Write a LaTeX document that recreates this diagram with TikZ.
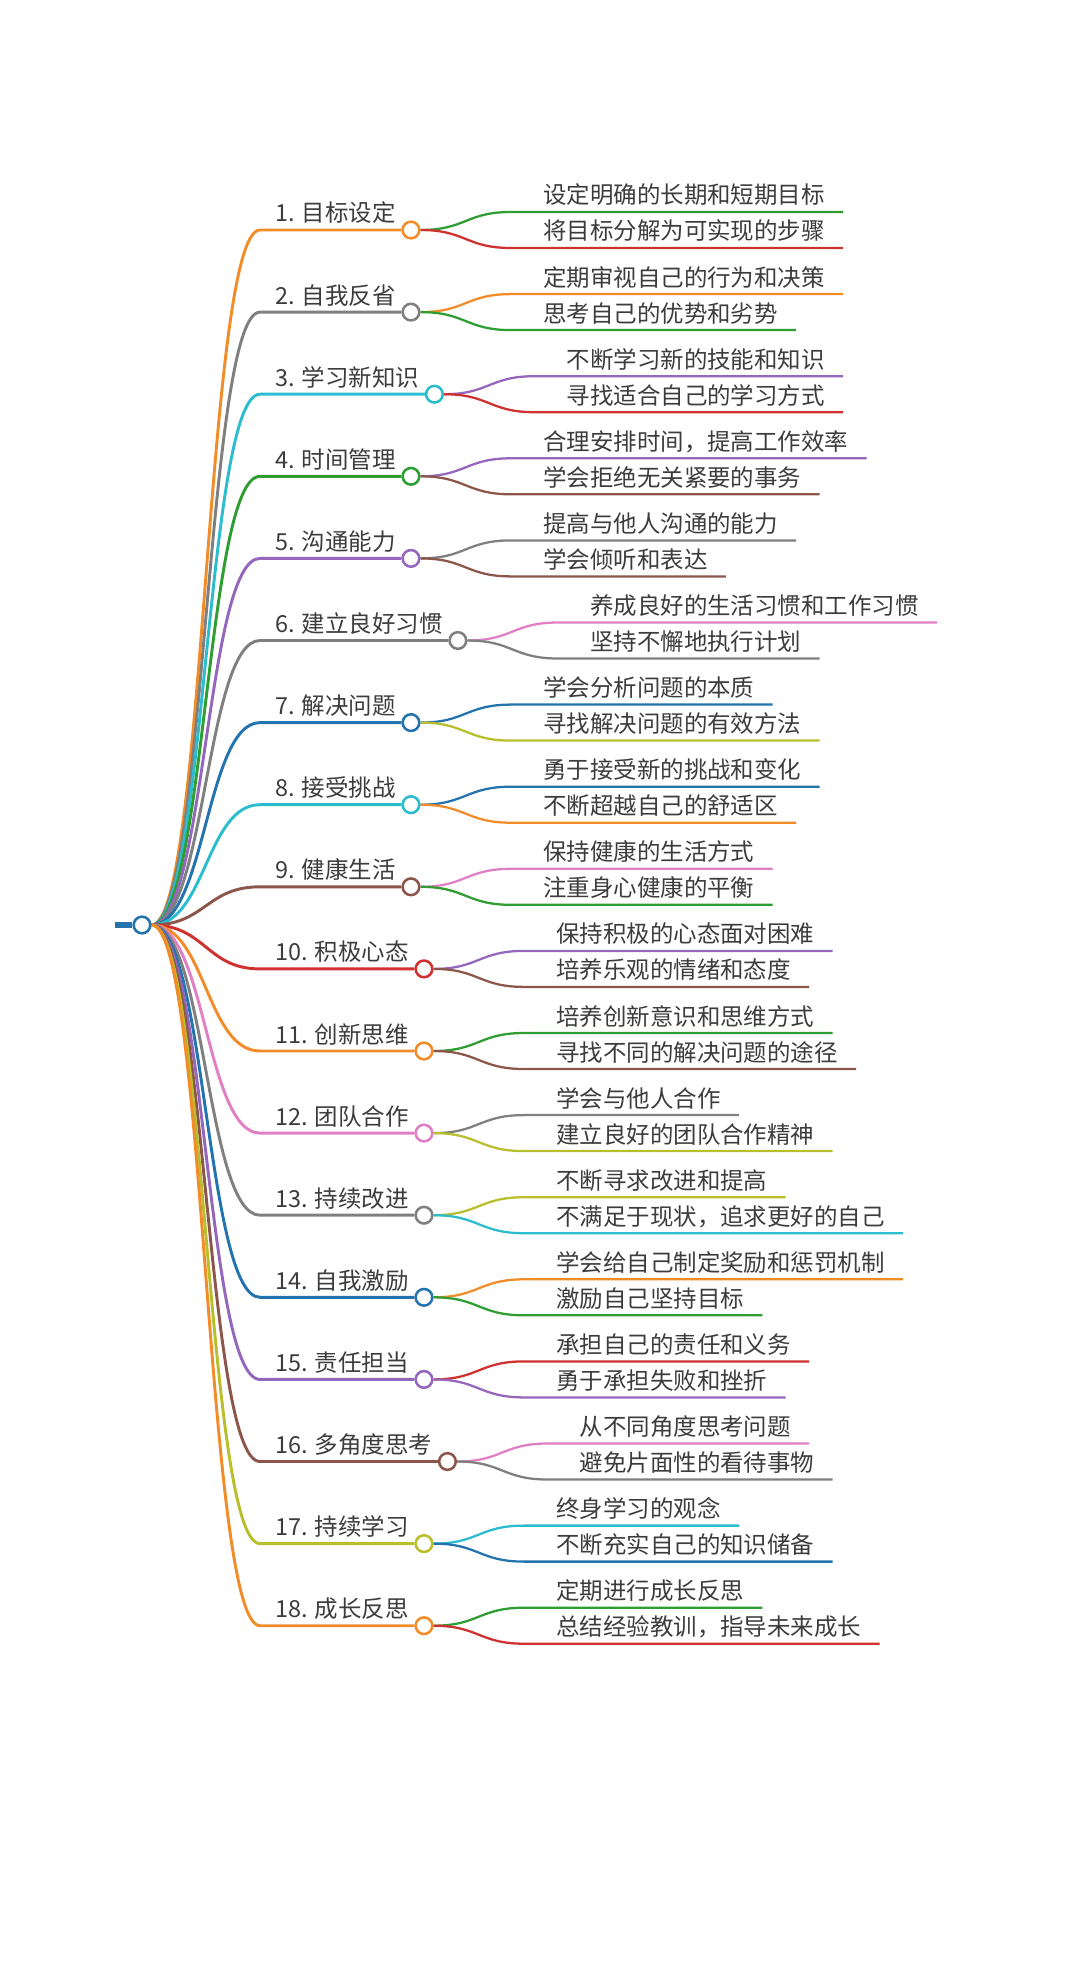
\documentclass[tikz,border=0pt]{standalone}
\usepackage{fontspec}
\setmainfont{Noto Sans CJK SC}
\usepackage{xcolor}
\usepackage{tikz}
\usetikzlibrary{positioning,calc}
\definecolor{mmorange}{HTML}{F28C28}
\definecolor{mmgray}{HTML}{7F7F7F}
\definecolor{mmcyan}{HTML}{2BBCCE}
\definecolor{mmgreen}{HTML}{2E9E32}
\definecolor{mmpurple}{HTML}{9467BD}
\definecolor{mmblue}{HTML}{2273AE}
\definecolor{mmbrown}{HTML}{8C564B}
\definecolor{mmred}{HTML}{D0302F}
\definecolor{mmpink}{HTML}{E07FC4}
\definecolor{mmolive}{HTML}{B8BE2C}
\definecolor{mmtext}{HTML}{3C3C3C}
% one main branch: index, colour, label, colour a, text a, colour b, text b
\newcommand{\mmbranch}[7]{%
  \pgfmathsetmacro{\by}{230+(#1-1)*82.1}
  \node[toplabel] (l#1) at (275,\by-8) {#1. #3};
  \node[knot,draw=#2] (k#1) at ($(l#1.base east)+(15,8)$) {};
  \draw[mainline,#2] (root.east) .. controls +(54,0) and +(-54,0) .. (260,\by) -- (k#1.west);
  \node[sublabel] (a#1) at ($(k#1.center)+(132,-26)$) {#5};
  \node[sublabel] (b#1) at ($(k#1.center)+(132,10)$) {#7};
  \draw[subline,#4] (k#1.east) .. controls +(45,0) and +(-45,0) .. ($(k#1.center)+(100,-18)$)
    -- ($(a#1.base east)+(18,8)$);
  \draw[subline,#6] (k#1.east) .. controls +(45,0) and +(-45,0) .. ($(k#1.center)+(100,18)$)
    -- ($(b#1.base east)+(18,8)$);
}

\begin{document}
\begin{tikzpicture}[x=0.75pt,y=-0.75pt,
  every node/.style={font=\fontsize{17.6}{20}\selectfont,text=mmtext},
  toplabel/.style={anchor=base west,inner sep=0pt},
  sublabel/.style={anchor=base west,inner sep=0pt},
  knot/.style={circle,fill=white,line width=1.9pt,minimum size=12.5pt,inner sep=0pt},
  mainline/.style={line width=2.2pt},
  subline/.style={line width=1.7pt}
]
  \useasboundingbox (0,0) rectangle (1080,1976);
  \node[knot,draw=mmblue] (root) at (142,925) {};
  \coordinate (stub) at (115,925);
  \draw[mmblue,line width=3.8pt] (stub) -- (root.west);

  \mmbranch{1}{mmorange}{目标设定}{mmgreen}{设定明确的长期和短期目标}{mmred}{将目标分解为可实现的步骤}
  \mmbranch{2}{mmgray}{自我反省}{mmorange}{定期审视自己的行为和决策}{mmgreen}{思考自己的优势和劣势}
  \mmbranch{3}{mmcyan}{学习新知识}{mmpurple}{不断学习新的技能和知识}{mmred}{寻找适合自己的学习方式}
  \mmbranch{4}{mmgreen}{时间管理}{mmpurple}{合理安排时间，提高工作效率}{mmbrown}{学会拒绝无关紧要的事务}
  \mmbranch{5}{mmpurple}{沟通能力}{mmgray}{提高与他人沟通的能力}{mmbrown}{学会倾听和表达}
  \mmbranch{6}{mmgray}{建立良好习惯}{mmpink}{养成良好的生活习惯和工作习惯}{mmgray}{坚持不懈地执行计划}
  \mmbranch{7}{mmblue}{解决问题}{mmblue}{学会分析问题的本质}{mmolive}{寻找解决问题的有效方法}
  \mmbranch{8}{mmcyan}{接受挑战}{mmblue}{勇于接受新的挑战和变化}{mmorange}{不断超越自己的舒适区}
  \mmbranch{9}{mmbrown}{健康生活}{mmpink}{保持健康的生活方式}{mmgreen}{注重身心健康的平衡}
  \mmbranch{10}{mmred}{积极心态}{mmpurple}{保持积极的心态面对困难}{mmbrown}{培养乐观的情绪和态度}
  \mmbranch{11}{mmorange}{创新思维}{mmgreen}{培养创新意识和思维方式}{mmbrown}{寻找不同的解决问题的途径}
  \mmbranch{12}{mmpink}{团队合作}{mmgray}{学会与他人合作}{mmolive}{建立良好的团队合作精神}
  \mmbranch{13}{mmgray}{持续改进}{mmolive}{不断寻求改进和提高}{mmcyan}{不满足于现状，追求更好的自己}
  \mmbranch{14}{mmblue}{自我激励}{mmorange}{学会给自己制定奖励和惩罚机制}{mmgreen}{激励自己坚持目标}
  \mmbranch{15}{mmpurple}{责任担当}{mmred}{承担自己的责任和义务}{mmpurple}{勇于承担失败和挫折}
  \mmbranch{16}{mmbrown}{多角度思考}{mmpink}{从不同角度思考问题}{mmgray}{避免片面性的看待事物}
  \mmbranch{17}{mmolive}{持续学习}{mmcyan}{终身学习的观念}{mmblue}{不断充实自己的知识储备}
  \mmbranch{18}{mmorange}{成长反思}{mmgreen}{定期进行成长反思}{mmred}{总结经验教训，指导未来成长}
\end{tikzpicture}
\end{document}
